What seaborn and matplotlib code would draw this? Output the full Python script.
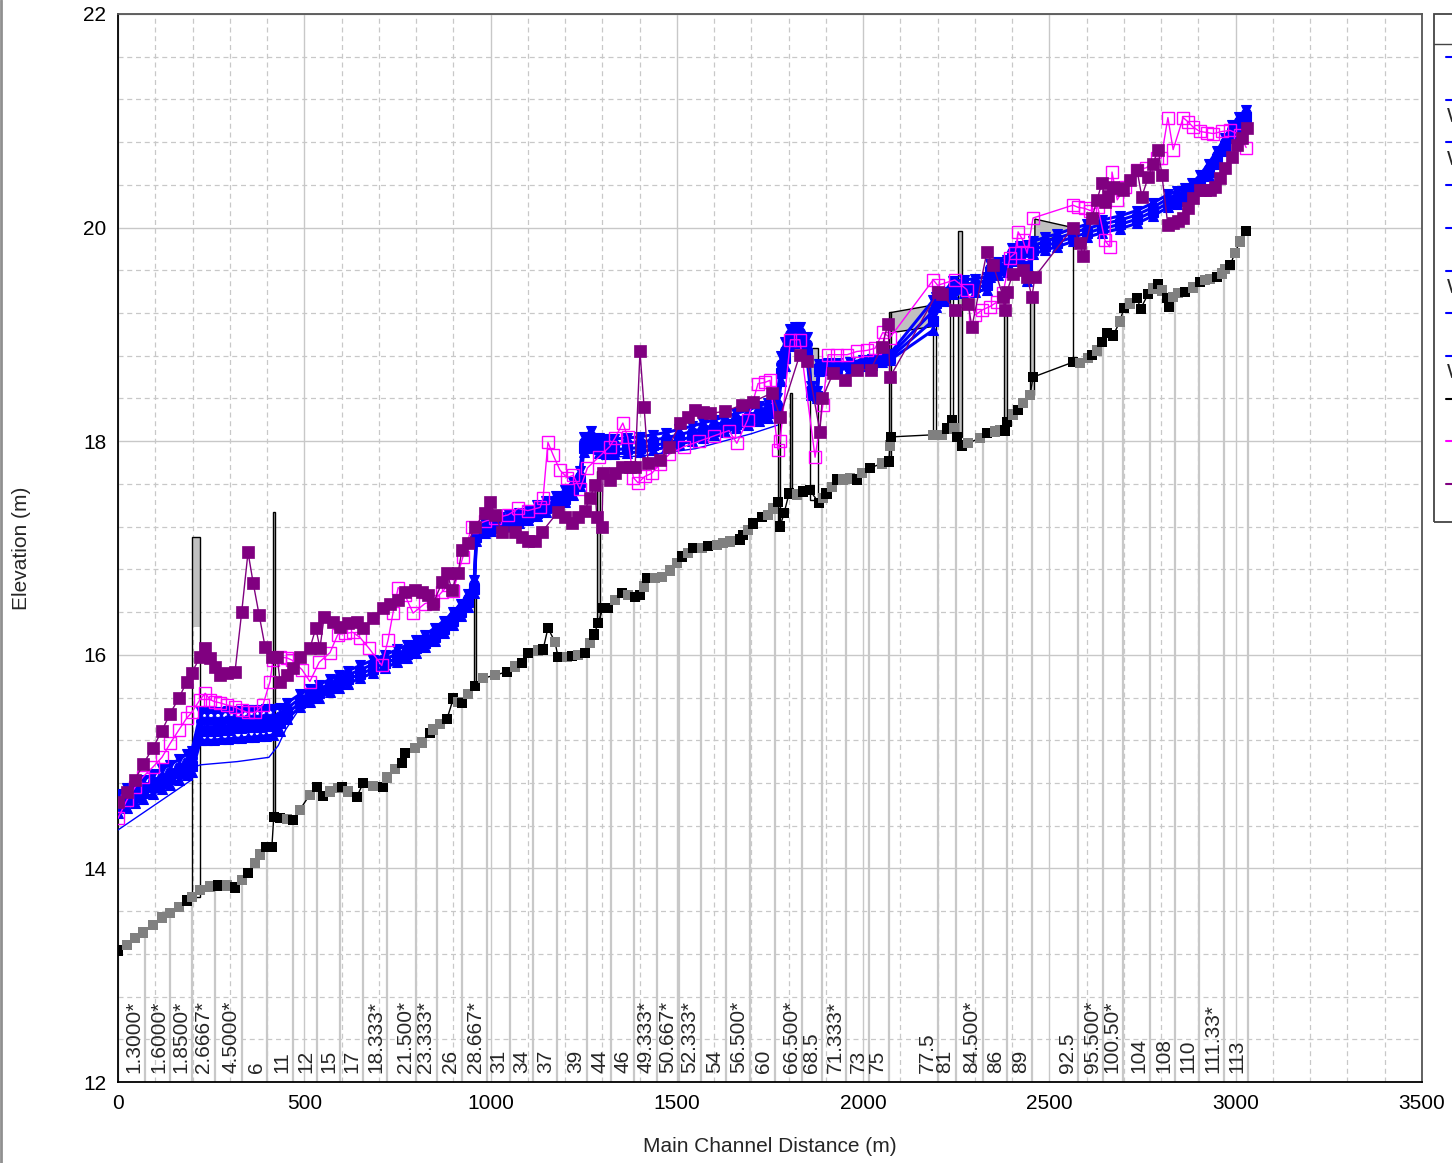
import numpy as np
import matplotlib
matplotlib.use("Agg")
import matplotlib.pyplot as plt
import seaborn as sns
from matplotlib.patches import Rectangle
from matplotlib.lines import Line2D
from matplotlib.ticker import MultipleLocator, FormatStrFormatter

# ---------------- data ----------------
ground_dist = [0, 24, 46, 68, 94, 118, 140, 164, 185, 198, 220, 247, 268, 292, 314, 332, 349, 368, 381, 397,
               413, 418, 434, 454, 470, 488, 515, 534, 550, 569, 590, 601, 617, 641, 658, 684, 711, 722, 743, 762,
               770, 797, 816, 837, 846, 864, 883, 900, 913, 923, 940, 958, 980, 1012, 1044, 1066, 1084, 1101, 1128, 1141,
               1154, 1173, 1181, 1205, 1219, 1235, 1253, 1267, 1278, 1289, 1302, 1315, 1334, 1353, 1369, 1388, 1401, 1412, 1420, 1441,
               1460, 1482, 1500, 1514, 1530, 1543, 1567, 1584, 1608, 1624, 1643, 1669, 1677, 1691, 1704, 1728, 1745, 1758, 1771, 1777,
               1788, 1801, 1822, 1839, 1857, 1882, 1893, 1902, 1916, 1930, 1946, 1965, 1983, 1997, 2018, 2050, 2069, 2072, 2074, 2188,
               2212, 2225, 2238, 2244, 2251, 2265, 2281, 2314, 2332, 2354, 2367, 2381, 2386, 2402, 2416, 2429, 2448, 2456, 2563, 2582,
               2604, 2614, 2628, 2641, 2654, 2671, 2689, 2700, 2716, 2735, 2745, 2765, 2778, 2792, 2802, 2815, 2820, 2832, 2845, 2864,
               2885, 2904, 2918, 2931, 2950, 2963, 2971, 2985, 2998, 3011, 3028]
ground_elev = [13.23, 13.28, 13.35, 13.40, 13.47, 13.54, 13.58, 13.64, 13.70, 13.73, 13.80, 13.83, 13.84, 13.84, 13.82, 13.89, 13.96, 14.05, 14.13, 14.20,
               14.20, 14.48, 14.47, 14.46, 14.45, 14.55, 14.69, 14.76, 14.68, 14.72, 14.75, 14.76, 14.72, 14.67, 14.80, 14.77, 14.76, 14.85, 14.93, 14.99,
               15.08, 15.13, 15.18, 15.27, 15.30, 15.35, 15.40, 15.59, 15.56, 15.55, 15.63, 15.71, 15.78, 15.81, 15.84, 15.89, 15.92, 16.02, 16.04, 16.05,
               16.25, 16.12, 15.98, 15.98, 15.99, 16.00, 16.02, 16.11, 16.19, 16.30, 16.44, 16.44, 16.51, 16.58, 16.56, 16.54, 16.56, 16.64, 16.72, 16.72,
               16.73, 16.79, 16.86, 16.92, 16.95, 17.00, 17.00, 17.02, 17.03, 17.05, 17.06, 17.08, 17.12, 17.17, 17.23, 17.29, 17.31, 17.37, 17.43, 17.20,
               17.33, 17.51, 17.50, 17.53, 17.54, 17.42, 17.47, 17.51, 17.57, 17.64, 17.64, 17.65, 17.64, 17.70, 17.75, 17.79, 17.81, 17.96, 18.04, 18.06,
               18.06, 18.12, 18.20, 18.12, 18.04, 17.96, 17.98, 18.03, 18.08, 18.09, 18.10, 18.10, 18.18, 18.25, 18.29, 18.36, 18.43, 18.60, 18.74, 18.73,
               18.78, 18.81, 18.85, 18.93, 19.01, 18.99, 19.12, 19.25, 19.29, 19.34, 19.24, 19.38, 19.43, 19.47, 19.41, 19.34, 19.26, 19.35, 19.39, 19.40,
               19.44, 19.49, 19.51, 19.52, 19.54, 19.57, 19.61, 19.65, 19.76, 19.87, 19.97]
ground_real = [1, 0, 0, 0, 0, 0, 0, 0, 1, 0, 0, 0, 1, 0, 1, 0, 1, 0, 0, 1,
               1, 1, 1, 0, 1, 0, 0, 1, 1, 0, 0, 1, 0, 1, 1, 0, 1, 0, 0, 1,
               1, 0, 0, 1, 0, 0, 1, 1, 0, 1, 0, 1, 0, 0, 1, 0, 1, 1, 0, 1,
               1, 0, 1, 0, 1, 0, 1, 0, 1, 1, 1, 1, 0, 1, 0, 1, 1, 0, 1, 0,
               0, 0, 0, 1, 0, 1, 0, 1, 0, 0, 0, 1, 1, 0, 1, 1, 0, 0, 1, 1,
               1, 1, 0, 1, 1, 1, 0, 1, 0, 1, 0, 0, 1, 0, 1, 0, 1, 0, 1, 0,
               0, 1, 1, 0, 1, 1, 0, 0, 1, 0, 0, 1, 1, 0, 1, 0, 0, 1, 1, 0,
               0, 1, 0, 1, 1, 1, 0, 1, 0, 1, 1, 1, 0, 1, 0, 1, 1, 0, 0, 1,
               0, 1, 0, 0, 1, 0, 0, 1, 0, 0, 1]

lob_dist = [0, 24, 46, 68, 94, 118, 140, 164, 185, 198, 220, 234, 247, 260, 274, 292, 314, 332, 349, 368,
            389, 408, 416, 435, 454, 467, 494, 515, 540, 569, 590, 609, 631, 650, 674, 708, 725, 738, 752, 770,
            792, 824, 846, 870, 886, 900, 926, 950, 985, 1012, 1047, 1074, 1100, 1133, 1141, 1154, 1168, 1186, 1205, 1222,
            1240, 1260, 1290, 1320, 1334, 1355, 1368, 1383, 1396, 1414, 1433, 1455, 1480, 1520, 1560, 1600, 1640, 1661, 1690, 1718,
            1736, 1750, 1771, 1777, 1805, 1830, 1871, 1892, 1906, 1930, 1957, 1983, 2010, 2032, 2053, 2072, 2188, 2200, 2246, 2278,
            2300, 2320, 2340, 2358, 2376, 2394, 2408, 2416, 2429, 2440, 2456, 2563, 2577, 2595, 2609, 2630, 2649, 2662, 2668, 2682,
            2703, 2735, 2760, 2789, 2800, 2818, 2832, 2859, 2872, 2886, 2904, 2922, 2940, 2963, 2985, 3011, 3028]
lob_elev = [14.47, 14.64, 14.76, 14.86, 14.95, 15.04, 15.17, 15.30, 15.41, 15.46, 15.58, 15.64, 15.58, 15.56, 15.55, 15.53, 15.51, 15.48, 15.46, 15.46,
            15.53, 15.75, 15.95, 15.98, 15.97, 15.95, 15.86, 15.75, 15.93, 16.02, 16.19, 16.20, 16.21, 16.16, 16.06, 15.90, 16.14, 16.39, 16.63, 16.56,
            16.39, 16.48, 16.50, 16.59, 16.65, 16.60, 16.92, 17.20, 17.25, 17.28, 17.31, 17.37, 17.35, 17.38, 17.47, 17.99, 17.87, 17.73, 17.66, 17.68,
            17.55, 17.75, 17.85, 17.95, 18.03, 18.17, 18.04, 17.66, 17.61, 17.67, 17.70, 17.79, 17.88, 17.95, 18.00, 18.05, 18.10, 17.98, 18.20, 18.54,
            18.55, 18.57, 17.92, 18.00, 18.95, 18.95, 17.85, 18.34, 18.81, 18.81, 18.81, 18.84, 18.85, 18.87, 19.02, 18.97, 19.51, 19.46, 19.51, 19.42,
            19.18, 19.23, 19.26, 19.30, 19.39, 19.72, 19.76, 19.96, 19.88, 19.76, 20.09, 20.21, 20.19, 20.18, 20.16, 20.19, 19.88, 19.82, 20.52, 20.26,
            20.38, 20.54, 20.56, 20.65, 20.65, 21.03, 20.73, 21.03, 20.99, 20.94, 20.90, 20.89, 20.88, 20.90, 20.91, 20.87, 20.75]

rob_dist = [0, 24, 46, 68, 94, 118, 140, 164, 185, 198, 220, 234, 247, 260, 274, 292, 314, 332, 349, 363,
            379, 395, 413, 427, 435, 454, 470, 488, 515, 531, 542, 553, 577, 596, 617, 641, 658, 684, 711, 730,
            752, 770, 797, 816, 832, 846, 870, 883, 896, 913, 923, 940, 958, 985, 998, 1012, 1031, 1066, 1084, 1101,
            1119, 1138, 1181, 1200, 1219, 1235, 1253, 1267, 1280, 1285, 1299, 1302, 1321, 1334, 1353, 1374, 1388, 1401, 1412, 1423,
            1455, 1480, 1508, 1530, 1549, 1570, 1589, 1630, 1675, 1704, 1755, 1777, 1830, 1850, 1884, 1890, 1920, 1950, 1983, 2020,
            2050, 2067, 2072, 2201, 2212, 2246, 2282, 2292, 2332, 2349, 2376, 2381, 2386, 2402, 2429, 2440, 2453, 2461, 2563, 2582,
            2590, 2614, 2628, 2641, 2650, 2657, 2671, 2684, 2697, 2716, 2735, 2748, 2765, 2778, 2792, 2802, 2818, 2832, 2845, 2859,
            2872, 2885, 2904, 2918, 2931, 2944, 2958, 2971, 2990, 3003, 3017, 3030]
rob_elev = [14.62, 14.72, 14.83, 14.98, 15.13, 15.29, 15.45, 15.60, 15.75, 15.83, 15.98, 16.06, 15.97, 15.89, 15.81, 15.83, 15.84, 16.40, 16.96, 16.67,
            16.37, 16.07, 15.98, 15.98, 15.75, 15.81, 15.88, 15.98, 16.06, 16.25, 16.06, 16.35, 16.31, 16.26, 16.30, 16.31, 16.25, 16.34, 16.44, 16.48,
            16.51, 16.59, 16.61, 16.59, 16.56, 16.48, 16.68, 16.77, 16.61, 16.77, 16.98, 17.05, 17.20, 17.33, 17.43, 17.31, 17.15, 17.15, 17.10, 17.07,
            17.07, 17.15, 17.34, 17.29, 17.23, 17.29, 17.35, 17.47, 17.59, 17.29, 17.20, 17.70, 17.64, 17.70, 17.76, 17.76, 17.76, 18.84, 18.32, 17.80,
            17.82, 17.95, 18.17, 18.23, 18.29, 18.27, 18.26, 18.28, 18.34, 18.37, 18.45, 18.23, 18.81, 18.75, 18.09, 18.40, 18.64, 18.57, 18.67, 18.67,
            18.88, 19.10, 18.60, 19.40, 19.38, 19.23, 19.28, 19.07, 19.77, 19.65, 19.35, 19.23, 19.40, 19.57, 19.60, 19.54, 19.35, 19.54, 20.00, 19.86,
            19.73, 20.09, 20.26, 20.42, 20.24, 20.30, 20.38, 20.37, 20.35, 20.45, 20.54, 20.29, 20.47, 20.60, 20.73, 20.49, 20.02, 20.04, 20.06, 20.09,
            20.18, 20.28, 20.35, 20.35, 20.35, 20.38, 20.46, 20.56, 20.66, 20.77, 20.84, 20.93]

ws_dist = [0, 24, 46, 68, 94, 118, 140, 164, 185, 198,
           222, 240, 258, 276, 294, 312, 330, 349, 366, 381, 398, 415, 434, 454,
           488, 515, 540, 569, 593, 617, 650, 684, 717, 750, 775, 800, 825, 850, 875, 900, 920, 940, 956,
           962, 985, 1000, 1025, 1050, 1075, 1100, 1125, 1150, 1175, 1200, 1222, 1240,
           1250, 1270, 1290, 1310, 1330, 1365, 1400, 1435, 1470, 1505, 1540, 1570, 1600, 1630, 1660, 1690, 1720, 1745, 1770,
           1780, 1790, 1805, 1818, 1830, 1850, 1860, 1875, 1882, 1905, 1930, 1965, 2000, 2025, 2050, 2072,
           2188, 2195, 2218, 2241, 2270, 2300, 2332, 2340, 2363, 2386, 2400, 2420, 2440, 2456, 2488, 2520, 2563,
           2600, 2640, 2690, 2735, 2778, 2818, 2842, 2864, 2884, 2904, 2927, 2950, 2970, 2990, 3010, 3028]
ws_pf1 = [14.70, 14.75, 14.79, 14.83, 14.88, 14.93, 14.97, 15.02, 15.07, 15.10,
          15.46, 15.46, 15.46, 15.46, 15.47, 15.47, 15.47, 15.48, 15.48, 15.48, 15.49, 15.49, 15.50, 15.55,
          15.63, 15.68, 15.72, 15.77, 15.81, 15.85, 15.90, 15.95, 16.00, 16.05, 16.09, 16.14, 16.19, 16.25, 16.32, 16.40, 16.48, 16.57, 16.70,
          17.16, 17.23, 17.26, 17.29, 17.31, 17.33, 17.36, 17.40, 17.44, 17.49, 17.54, 17.62, 17.72,
          18.04, 18.10, 18.03, 18.02, 18.02, 18.03, 18.04, 18.06, 18.08, 18.11, 18.14, 18.17, 18.20, 18.23, 18.26, 18.29, 18.33, 18.36, 18.40,
          18.80, 18.93, 19.05, 19.07, 19.07, 18.98, 18.52, 18.47, 18.72, 18.73, 18.73, 18.74, 18.76, 18.77, 18.80, 18.82,
          19.32, 19.35, 19.40, 19.50, 19.51, 19.52, 19.54, 19.66, 19.68, 19.70, 19.81, 19.83, 19.84, 19.87, 19.91, 19.94, 19.99,
          20.03, 20.07, 20.11, 20.16, 20.23, 20.31, 20.34, 20.37, 20.42, 20.49, 20.60, 20.72, 20.84, 20.96, 21.04, 21.10]
ws_pf2 = [14.64, 14.69, 14.73, 14.77, 14.82, 14.86, 14.90, 14.95, 15.00, 15.03,
          15.38, 15.38, 15.38, 15.38, 15.39, 15.39, 15.39, 15.40, 15.40, 15.40, 15.41, 15.41, 15.43, 15.50,
          15.59, 15.64, 15.68, 15.73, 15.77, 15.81, 15.86, 15.91, 15.96, 16.01, 16.05, 16.10, 16.15, 16.21, 16.28, 16.36, 16.44, 16.53, 16.66,
          17.13, 17.20, 17.22, 17.25, 17.27, 17.29, 17.32, 17.36, 17.40, 17.45, 17.50, 17.58, 17.67,
          17.99, 18.04, 17.98, 17.97, 17.97, 17.98, 17.99, 18.01, 18.03, 18.06, 18.09, 18.12, 18.15, 18.18, 18.21, 18.24, 18.28, 18.31, 18.35,
          18.72, 18.85, 19.00, 19.02, 19.02, 18.91, 18.49, 18.44, 18.70, 18.71, 18.71, 18.72, 18.74, 18.75, 18.78, 18.80,
          19.22, 19.32, 19.37, 19.46, 19.47, 19.48, 19.50, 19.62, 19.64, 19.66, 19.77, 19.79, 19.77, 19.83, 19.87, 19.90, 19.95,
          19.99, 20.03, 20.07, 20.12, 20.19, 20.27, 20.30, 20.33, 20.38, 20.45, 20.56, 20.68, 20.80, 20.92, 21.00, 21.07]
ws_pf3 = [14.58, 14.63, 14.67, 14.71, 14.76, 14.80, 14.84, 14.89, 14.93, 14.96,
          15.29, 15.29, 15.29, 15.30, 15.30, 15.31, 15.31, 15.32, 15.32, 15.32, 15.33, 15.33, 15.36, 15.45,
          15.55, 15.60, 15.64, 15.69, 15.73, 15.77, 15.82, 15.87, 15.92, 15.97, 16.01, 16.06, 16.11, 16.17, 16.24, 16.32, 16.40, 16.49, 16.62,
          17.10, 17.17, 17.19, 17.22, 17.24, 17.26, 17.29, 17.33, 17.37, 17.41, 17.46, 17.54, 17.62,
          17.94, 17.98, 17.93, 17.92, 17.92, 17.93, 17.94, 17.96, 17.98, 18.01, 18.04, 18.07, 18.10, 18.13, 18.16, 18.19, 18.23, 18.26, 18.30,
          18.64, 18.78, 18.95, 18.97, 18.97, 18.83, 18.46, 18.42, 18.68, 18.69, 18.69, 18.70, 18.72, 18.73, 18.76, 18.78,
          19.13, 19.29, 19.34, 19.42, 19.43, 19.44, 19.46, 19.58, 19.60, 19.62, 19.73, 19.75, 19.64, 19.79, 19.83, 19.86, 19.91,
          19.95, 19.99, 20.03, 20.08, 20.15, 20.23, 20.26, 20.29, 20.34, 20.41, 20.52, 20.64, 20.76, 20.88, 20.96, 21.04]
ws_pf4 = [14.52, 14.57, 14.61, 14.65, 14.70, 14.74, 14.78, 14.83, 14.87, 14.90,
          15.20, 15.20, 15.20, 15.21, 15.21, 15.22, 15.22, 15.23, 15.23, 15.24, 15.24, 15.25, 15.29, 15.40,
          15.51, 15.56, 15.60, 15.65, 15.69, 15.73, 15.78, 15.83, 15.88, 15.93, 15.97, 16.02, 16.07, 16.13, 16.20, 16.28, 16.36, 16.45, 16.58,
          17.07, 17.14, 17.16, 17.19, 17.21, 17.23, 17.26, 17.30, 17.34, 17.38, 17.43, 17.50, 17.58,
          17.90, 17.94, 17.89, 17.88, 17.88, 17.89, 17.90, 17.92, 17.94, 17.97, 18.00, 18.03, 18.06, 18.09, 18.12, 18.15, 18.19, 18.22, 18.26,
          18.56, 18.70, 18.89, 18.92, 18.92, 18.75, 18.43, 18.40, 18.66, 18.67, 18.67, 18.68, 18.70, 18.71, 18.74, 18.76,
          19.04, 19.26, 19.31, 19.38, 19.39, 19.40, 19.42, 19.54, 19.56, 19.58, 19.69, 19.71, 19.50, 19.75, 19.79, 19.82, 19.87,
          19.91, 19.95, 19.99, 20.04, 20.11, 20.19, 20.22, 20.25, 20.30, 20.37, 20.48, 20.60, 20.72, 20.84, 20.92, 21.01]
ws_markers = ['v', 'o', 's', '^']

crit_dist = [0, 198, 204, 222, 320, 405, 430, 450, 488]
crit_elev = [14.36, 14.83, 14.95, 14.97, 15.00, 15.04, 15.15, 15.30, 15.50]
crit2_dist = [1290, 1400, 1550, 1700, 1770]
crit2_elev = [17.85, 17.86, 17.93, 18.07, 18.15]

sec_labels = ["1.3000*", "1.6000*", "1.8500*", "2.6667*", "4.5000*", "6", "11", "12", "15", "17",
              "18.333*", "21.500*", "23.333*", "26", "28.667*", "31", "34", "37", "39", "44",
              "46", "49.333*", "50.667*", "52.333*", "54", "56.500*", "60", "66.500*", "68.5", "71.333*",
              "73", "75", "77.5", "81", "84.500*", "86", "89", "92.5", "95.500*", "100.50*",
              "104", "108", "110", "111.33*", "113"]
sec_dist = [72, 140, 199, 260, 333, 400, 470, 534, 596, 658,
            722, 800, 856, 923, 990, 1052, 1114, 1178, 1259, 1323,
            1385, 1447, 1506, 1565, 1632, 1696, 1763, 1836, 1890, 1954,
            2016, 2069, 2201, 2249, 2322, 2386, 2453, 2577, 2644, 2697,
            2770, 2837, 2901, 2969, 3033]

# structures: outline from bottom to top, grey fill from fill_low to top (nan = no fill)
struct_left = [198, 416, 956, 1287, 1772, 1803, 1858, 2069, 2188, 2233, 2255, 2378, 2449, 2563]
struct_right = [220, 422, 961, 1295, 1778, 1810, 1880, 2075, 2196, 2240, 2265, 2386, 2458, 2563]
struct_bottom = [13.73, 14.48, 15.71, 16.30, 17.20, 17.51, 17.45, 17.81, 18.06, 18.18, 18.04, 18.10, 18.43, 18.74]
struct_top = [17.10, 17.34, 16.68, 17.72, 18.25, 18.45, 18.87, 19.21, 19.30, 19.40, 19.97, 19.23, 19.35, 20.00]
struct_fill_low = [16.26, 14.48, 15.71, 16.30, 17.20, 17.51, 18.41, 17.81, np.nan, np.nan, 18.04, 18.10, 18.43, np.nan]
deck_dist = [2074, 2188]
deck_top = [19.21, 19.28]
deck_low = [19.02, 19.08]
tri_dist = [2461, 2563, 2461]
tri_elev = [20.08, 20.00, 19.82]

legend_labels = [" Crit PF 1", "WS PF 1", "WS PF 2", " Crit PF 2", " Crit PF 3", "WS PF 3",
                 " Crit PF 4", "WS PF 4", " Ground", " LOB", " ROB"]
legend_colors = ["#0000FF"] * 8 + ["#000000", "#FF00FF", "#800080"]

# ---------------- figure ----------------
sns.set_style("white")
plt.rcParams['font.family'] = ['Liberation Sans', 'DejaVu Sans']

W, H = 1452, 1163
fig = plt.figure(figsize=(W / 100, H / 100), dpi=100)
ax = fig.add_axes([118 / W, 1 - 1082 / H, (1422 - 118) / W, (1082 - 14) / H])
ax.set_xlim(0, 3500)
ax.set_ylim(12, 22)

ax.xaxis.set_major_locator(MultipleLocator(500))
ax.xaxis.set_minor_locator(MultipleLocator(100))
ax.yaxis.set_major_locator(MultipleLocator(2))
ax.yaxis.set_minor_locator(MultipleLocator(0.4))
ax.yaxis.set_major_formatter(FormatStrFormatter('%d'))
ax.grid(which='major', color='#C8C8C8', lw=1.0, ls='-', zorder=0)
ax.grid(which='minor', color='#C8C8C8', lw=0.9, ls=(0, (4, 3)), zorder=0)
ax.set_axisbelow(True)
ax.tick_params(which='both', direction='out', length=4.3, width=1, colors='black',
               labelsize=15, pad=4)
for s in ['left', 'bottom']:
    ax.spines[s].set_color('black')
    ax.spines[s].set_linewidth(1.3)
for s in ['top', 'right']:
    ax.spines[s].set_color('#555555')
    ax.spines[s].set_linewidth(1.3)

# section lines and labels
g_d = np.array(ground_dist, float)
g_e = np.array(ground_elev, float)
sec_top = np.interp(sec_dist, g_d, g_e)
ax.vlines(sec_dist, 12, sec_top, color='#C8C8C8', lw=1.6, zorder=1)
for lab, d in zip(sec_labels, sec_dist):
    ax.text(d - 4, 12.08, lab, rotation=90, ha='right', va='bottom', fontsize=15, zorder=2)

# structures
for l, r, b, t, fl in zip(struct_left, struct_right, struct_bottom, struct_top, struct_fill_low):
    if not np.isnan(fl):
        ax.add_patch(Rectangle((l, fl), r - l, t - fl, facecolor='#C0C0C0', edgecolor='none', zorder=2))
    ax.add_patch(Rectangle((l, b), r - l, t - b, fill=False, edgecolor='black', lw=1.0, zorder=2.5))
ax.fill_between(deck_dist, deck_low, deck_top, facecolor='#C0C0C0', edgecolor='black', lw=1.0, zorder=2)
ax.fill(tri_dist, tri_elev, facecolor='#C0C0C0', edgecolor='black', lw=1.0, zorder=2)

# water surfaces
for vals, mk in zip([ws_pf4, ws_pf3, ws_pf2, ws_pf1], ws_markers[::-1]):
    sns.lineplot(x=ws_dist, y=vals, ax=ax, color='#0000FF', lw=2.2, marker=mk, markersize=7,
                 markeredgecolor='#0000FF', markerfacecolor='#0000FF', markeredgewidth=0.8,
                 sort=False, estimator=None, zorder=4)
sns.lineplot(x=crit_dist, y=crit_elev, ax=ax, color='#0000FF', lw=1.0, sort=False, estimator=None, zorder=4)
sns.lineplot(x=crit2_dist, y=crit2_elev, ax=ax, color='#0000FF', lw=1.0, sort=False, estimator=None, zorder=4)

# ground
sns.lineplot(x=ground_dist, y=ground_elev, ax=ax, color='black', lw=1.0, sort=False, estimator=None, zorder=5)
g_kind = ['real' if f else 'interp' for f in ground_real]
sns.scatterplot(x=ground_dist, y=ground_elev, hue=g_kind, palette={'real': '#000000', 'interp': '#808080'},
                marker='s', s=55, linewidth=0, legend=False, ax=ax, zorder=6)

# banks
sns.lineplot(x=lob_dist, y=lob_elev, ax=ax, color='#FF00FF', lw=1.0, marker='s', markersize=8,
             markerfacecolor='none', markeredgecolor='#FF00FF', markeredgewidth=1.0,
             sort=False, estimator=None, zorder=7)
sns.lineplot(x=rob_dist, y=rob_elev, ax=ax, color='#800080', lw=1.0, marker='s', markersize=8,
             markerfacecolor='#800080', markeredgecolor='#800080', markeredgewidth=0.5,
             sort=False, estimator=None, zorder=8)

ax.set_xlabel('')
ax.set_ylabel('')
fig.text(770 / W, 1 - 1147 / H, 'Main Channel Distance (m)', ha='center', va='center', fontsize=15)
fig.text(22 / W, 1 - 548 / H, 'Elevation (m)', ha='center', va='center', rotation=90, fontsize=15)


# legend (mostly outside the visible canvas, as in the reference)
def fx(px):
    return px / W


def fy(py):
    return 1 - py / H


fig.add_artist(Rectangle((fx(1434), fy(522)), fx(300), (522 - 14) / H, transform=fig.transFigure,
                         fill=False, edgecolor='#444444', lw=1.3))
fig.add_artist(Line2D([fx(1434), fx(1460)], [fy(44), fy(44)], color='#444444', lw=1.0))
for i, (lab, col) in enumerate(zip(legend_labels, legend_colors)):
    py = 57 + i * 42.7
    fig.add_artist(Line2D([fx(1446), fx(1500)], [fy(py), fy(py)], color=col, lw=1.5))
    fig.text(fx(1447), fy(py + 17), lab, fontsize=15, ha='left', va='center')

fig.add_artist(Line2D([0.0008, 0.0008], [0, 1], color='#909090', lw=2))

fig.savefig('out.png', dpi=100)
